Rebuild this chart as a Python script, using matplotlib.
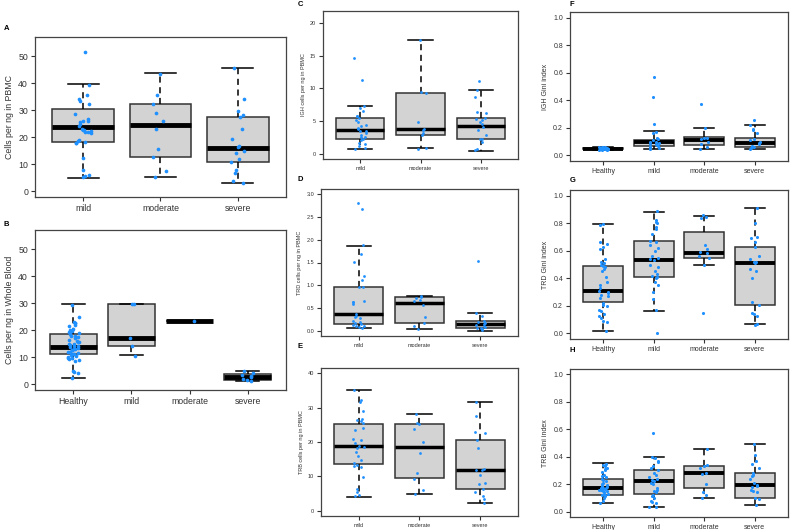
import numpy as np
import matplotlib
matplotlib.use("Agg")
import matplotlib.pyplot as plt

plt.rcParams['font.family'] = ['Liberation Sans', 'DejaVu Sans']

W, H = 791, 530

groups3 = ['mild', 'moderate', 'severe']
groups4 = ['Healthy', 'mild', 'moderate', 'severe']

# box stats per group: (whislo, q1, med, q3, whishi)
a_box = [(5.0, 18.4, 23.8, 30.5, 39.9), (5.3, 12.6, 24.6, 32.5, 43.8), (2.9, 10.8, 16.0, 27.4, 45.8)]
a_pts = [
    [51.5, 39.5, 35.8, 34.3, 33.5, 32.5, 28.7, 26.8, 26.2, 25.9, 25.5, 25.0, 24.0, 23.2, 22.7,
     22.6, 22.3, 22.0, 21.9, 21.6, 19.0, 18.6, 18.3, 18.0, 17.9, 12.4, 8.0, 6.1, 5.6, 5.1],
    [43.6, 35.6, 32.4, 28.9, 26.1, 23.2, 15.5, 12.7, 7.6, 5.4],
    [45.8, 34.2, 29.7, 28.3, 27.4, 23.0, 19.2, 16.8, 16.2, 14.7, 14.2, 11.9, 10.8, 8.0, 6.6, 3.6, 3.0],
]

b_box = [(2.1, 11.0, 13.9, 18.7, 29.6), (10.7, 14.1, 17.0, 29.9, 29.9), (23.3, 23.3, 23.3, 23.3, 23.3),
         (1.0, 1.5, 2.6, 3.6, 4.8)]
b_pts = [
    [29.5, 24.8, 23.0, 22.8, 22.5, 22.0, 21.5, 20.5, 20.0, 19.8, 19.5, 18.8, 18.5, 18.0, 17.8, 17.5,
     17.0, 16.5, 16.0, 15.8, 15.5, 15.0, 14.8, 14.5, 14.2, 14.0, 13.8, 13.5, 13.2, 13.0, 12.8, 12.5,
     12.0, 11.8, 11.5, 11.2, 11.0, 10.8, 10.5, 10.2, 9.8, 9.5, 9.2, 9.0, 8.5, 5.0, 4.5, 4.0, 2.2],
    [29.7, 29.6, 17.0, 14.0, 10.5],
    [23.3],
    [4.8, 4.2, 3.5, 3.1, 2.6, 1.8, 1.4, 1.1],
]

c_box = [(0.67, 2.26, 3.6, 5.44, 7.33), (0.77, 2.87, 3.8, 9.33, 17.4), (0.4, 2.26, 4.26, 5.5, 9.7)]
c_pts = [
    [14.6, 11.2, 7.3, 6.9, 6.5, 5.8, 5.7, 5.4, 5.1, 4.8, 4.4, 4.2, 3.9, 3.7, 3.5, 3.4, 3.2, 2.8,
     2.6, 2.5, 2.3, 2.1, 1.6, 1.4, 1.1, 0.8, 0.7],
    [17.4, 9.5, 9.3, 4.8, 3.8, 3.6, 3.1, 2.9, 0.9, 0.7],
    [11.1, 9.7, 8.6, 6.3, 6.2, 5.5, 5.3, 5.1, 4.8, 4.5, 4.1, 3.6, 2.9, 2.3, 2.2, 1.7, 0.7, 0.5],
]

d_box = [(0.058, 0.138, 0.357, 0.97, 1.87), (0.03, 0.167, 0.605, 0.735, 0.765), (0.0, 0.066, 0.138, 0.21, 0.39)]
d_pts = [
    [2.81, 2.68, 1.88, 1.68, 1.52, 1.20, 1.12, 0.97, 0.95, 0.66, 0.64, 0.62, 0.58, 0.37, 0.33,
     0.30, 0.28, 0.22, 0.18, 0.16, 0.14, 0.12, 0.10, 0.09, 0.07, 0.06],
    [0.76, 0.75, 0.71, 0.68, 0.65, 0.56, 0.30, 0.17, 0.10, 0.03],
    [1.53, 0.39, 0.31, 0.21, 0.18, 0.17, 0.15, 0.12, 0.10, 0.08, 0.06, 0.05, 0.03, 0.01],
]

e_box = [(4.0, 13.7, 18.7, 25.4, 35.3), (4.8, 9.4, 18.4, 25.4, 28.2), (2.2, 6.2, 11.9, 20.6, 31.7)]
e_pts = [
    [35.1, 32.4, 31.6, 29.1, 26.8, 26.3, 26.0, 25.5, 24.1, 23.4, 21.0, 20.5, 19.8, 18.9, 18.5,
     18.2, 17.2, 15.9, 14.8, 13.8, 13.3, 12.9, 12.6, 9.9, 6.4, 5.5, 4.4, 4.1],
    [28.2, 25.5, 25.4, 23.7, 20.0, 16.7, 10.9, 9.2, 6.0, 4.7],
    [31.7, 27.6, 22.8, 22.5, 20.6, 18.3, 12.0, 11.8, 11.7, 10.4, 7.9, 7.8, 6.2, 5.4, 4.2, 3.3, 2.3],
]

f_box = [(0.042, 0.044, 0.05, 0.056, 0.062), (0.049, 0.068, 0.097, 0.114, 0.175),
         (0.049, 0.075, 0.112, 0.131, 0.2), (0.049, 0.058, 0.09, 0.126, 0.221)]
f_pts = [
    [0.062, 0.06, 0.059, 0.058, 0.057, 0.056, 0.055, 0.055, 0.054, 0.053, 0.052, 0.052, 0.051, 0.05,
     0.05, 0.049, 0.049, 0.048, 0.048, 0.047, 0.047, 0.046, 0.046, 0.045, 0.045, 0.044, 0.044, 0.043,
     0.043, 0.042],
    [0.57, 0.425, 0.23, 0.17, 0.165, 0.13, 0.12, 0.11, 0.10, 0.095, 0.09, 0.085, 0.08, 0.075, 0.07,
     0.065, 0.06, 0.055, 0.05],
    [0.37, 0.20, 0.13, 0.125, 0.12, 0.10, 0.08, 0.06, 0.05],
    [0.26, 0.22, 0.19, 0.185, 0.16, 0.12, 0.11, 0.10, 0.09, 0.08, 0.07, 0.065, 0.06, 0.055, 0.05],
]

g_box = [(0.015, 0.225, 0.305, 0.489, 0.792), (0.165, 0.41, 0.533, 0.668, 0.884),
         (0.5, 0.55, 0.583, 0.736, 0.855), (0.068, 0.21, 0.508, 0.627, 0.906)]
g_pts = [
    [0.79, 0.785, 0.66, 0.65, 0.63, 0.61, 0.54, 0.52, 0.51, 0.50, 0.49, 0.48, 0.47, 0.45, 0.41,
     0.37, 0.35, 0.33, 0.31, 0.30, 0.29, 0.28, 0.27, 0.26, 0.22, 0.21, 0.20, 0.17, 0.16, 0.14,
     0.13, 0.11, 0.09, 0.085, 0.015],
    [0.89, 0.82, 0.81, 0.80, 0.77, 0.76, 0.72, 0.67, 0.66, 0.64, 0.62, 0.60, 0.56, 0.55, 0.54,
     0.53, 0.50, 0.48, 0.45, 0.43, 0.42, 0.41, 0.40, 0.37, 0.35, 0.30, 0.25, 0.17, 0.0],
    [0.86, 0.845, 0.84, 0.64, 0.61, 0.59, 0.58, 0.56, 0.55, 0.50, 0.15],
    [0.91, 0.80, 0.70, 0.69, 0.66, 0.63, 0.56, 0.54, 0.52, 0.515, 0.51, 0.47, 0.45, 0.40, 0.23,
     0.21, 0.15, 0.14, 0.13, 0.07, 0.065],
]

h_box = [(0.063, 0.123, 0.174, 0.235, 0.351), (0.031, 0.13, 0.223, 0.303, 0.40),
         (0.097, 0.174, 0.28, 0.33, 0.458), (0.048, 0.1, 0.19, 0.278, 0.49)]
h_pts = [
    [0.35, 0.34, 0.33, 0.32, 0.31, 0.30, 0.29, 0.27, 0.26, 0.25, 0.24, 0.23, 0.22, 0.21, 0.20,
     0.19, 0.185, 0.18, 0.175, 0.17, 0.165, 0.16, 0.155, 0.15, 0.14, 0.13, 0.12, 0.11, 0.10,
     0.08, 0.06, 0.17, 0.16, 0.15, 0.13, 0.12],
    [0.57, 0.40, 0.39, 0.37, 0.36, 0.33, 0.32, 0.30, 0.28, 0.27, 0.25, 0.24, 0.23, 0.22, 0.21,
     0.20, 0.17, 0.16, 0.15, 0.14, 0.12, 0.11, 0.10, 0.08, 0.07, 0.06, 0.035, 0.03],
    [0.455, 0.34, 0.33, 0.32, 0.28, 0.275, 0.20, 0.14, 0.12, 0.10],
    [0.49, 0.41, 0.37, 0.35, 0.32, 0.28, 0.27, 0.26, 0.24, 0.21, 0.19, 0.185, 0.18, 0.16, 0.15,
     0.14, 0.10, 0.09, 0.05],
]

rng = np.random.default_rng(7)
fig = plt.figure(figsize=(W / 100, H / 100), dpi=100)


def add_ax(left, top, right, bottom):
    return fig.add_axes([left / W, 1 - bottom / H, (right - left) / W, (bottom - top) / H])


def panel(ax, names, boxes, pts, ylim, yticks, ylabel, fs, ms, medw):
    n = len(names)
    stats = []
    for i, (lo, q1, med, q3, hi) in enumerate(boxes):
        stats.append(dict(whislo=lo, q1=q1, med=med, q3=q3, whishi=hi, fliers=[], label=names[i]))
    ax.bxp(stats, positions=np.arange(1, n + 1), widths=0.8, patch_artist=True, showfliers=False,
           boxprops=dict(facecolor='#d3d3d3', edgecolor='#333333', linewidth=1.1),
           medianprops=dict(color='black', linewidth=medw, solid_capstyle='butt'),
           whiskerprops=dict(color='black', linewidth=1.1, linestyle=(0, (4, 3))),
           capprops=dict(color='black', linewidth=1.1), capwidths=0.4)
    for i, vals in enumerate(pts):
        x = i + 1 + rng.uniform(-0.1, 0.1, len(vals))
        ax.scatter(x, vals, s=ms, color='#1E90FF', zorder=5, linewidths=0)
    r = ylim[1] - ylim[0]
    ax.set_ylim(ylim[0] - 0.04 * r, ylim[1] + 0.04 * r)
    ax.set_xlim(0.5 - 0.04 * n, n + 0.5 + 0.04 * n)
    ax.set_yticks(yticks)
    ax.set_xticks(np.arange(1, n + 1))
    ax.set_xticklabels(names)
    ax.tick_params(labelsize=fs, colors='#333333', length=3, width=0.8, pad=2)
    ax.set_ylabel(ylabel, fontsize=fs, color='#333333', labelpad=3)
    for s in ax.spines.values():
        s.set_color('#444444')
        s.set_linewidth(0.9)


ax = add_ax(35, 37, 286, 197)
panel(ax, groups3, a_box, a_pts, (0, 55), [0, 10, 20, 30, 40, 50], 'Cells per ng in PBMC', 6.3, 7, 3.5)
ax = add_ax(35, 230, 286, 390)
panel(ax, groups4, b_box, b_pts, (0, 55), [0, 10, 20, 30, 40, 50], 'Cells per ng in Whole Blood', 6.3, 7, 3.5)

ax = add_ax(323, 11, 518, 159)
panel(ax, groups3, c_box, c_pts, (0, 21), [0, 5, 10, 15, 20], 'IGH cells per ng in PBMC', 4.0, 4, 2.5)
ax = add_ax(321, 189, 518, 336)
panel(ax, groups3, d_box, d_pts, (0, 3.0), [0, 0.5, 1.0, 1.5, 2.0, 2.5, 3.0], 'TRD cells per ng in PBMC', 4.0, 4, 2.5)
ax.set_yticklabels(['0.0', '0.5', '1.0', '1.5', '2.0', '2.5', '3.0'])
ax = add_ax(321, 368, 518, 516)
panel(ax, groups3, e_box, e_pts, (0, 40), [0, 10, 20, 30, 40], 'TRB cells per ng in PBMC', 4.0, 4, 2.5)

gini_ticks = [0, 0.2, 0.4, 0.6, 0.8, 1.0]
gini_labels = ['0.0', '0.2', '0.4', '0.6', '0.8', '1.0']
for top, bottom, box, pts, lab in [(12, 161, f_box, f_pts, 'IGH Gini index'),
                                   (190, 339, g_box, g_pts, 'TRD Gini index'),
                                   (369, 517, h_box, h_pts, 'TRB Gini index')]:
    ax = add_ax(570, top, 788, bottom)
    panel(ax, groups4, box, pts, (0, 1.0), gini_ticks, lab, 5.0, 5, 2.8)
    ax.set_yticklabels(gini_labels)

for letter, x, y in [('A', 4, 28), ('B', 3, 225), ('C', 298, 4), ('D', 298, 180),
                     ('E', 298, 347), ('F', 570, 4), ('G', 570, 181), ('H', 570, 351)]:
    fig.text(x / W, 1 - y / H, letter, fontsize=5.5, fontweight='bold', va='center', ha='left')

fig.savefig('out.png', dpi=100)
